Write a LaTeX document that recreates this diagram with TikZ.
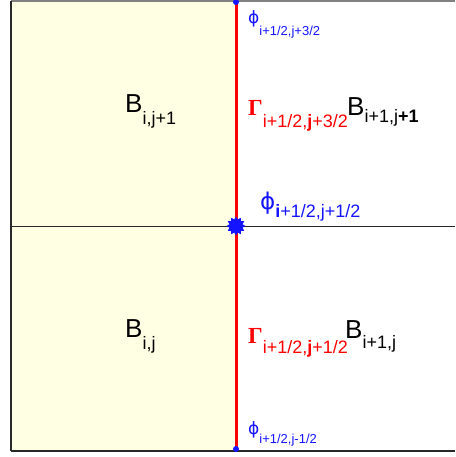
\documentclass[tikz,border=0pt]{standalone}
\usepackage{fontspec}
\setmainfont{Liberation Sans}
\newfontfamily\gammafont{Liberation Serif}
\newfontfamily\phifont{DejaVu Sans}
\usetikzlibrary{positioning,shapes.geometric}
\definecolor{cellyellow}{RGB}{255,255,228}
\definecolor{faceblue}{RGB}{20,20,255}
\definecolor{facered}{RGB}{255,0,0}
\definecolor{framegray}{RGB}{40,40,40}
\newcommand{\subtxt}[3]{\raisebox{-#1pt}{\fontsize{#2}{#2}\selectfont #3}}

\begin{document}
\begin{tikzpicture}[x=1pt,y=-1pt,
            cellname/.style={anchor=base west,inner sep=0pt,
                             font=\fontsize{26}{26}\selectfont},
            facename/.style={anchor=base west,inner sep=0pt,facered,
                             font=\fontsize{23}{23}\selectfont\gammafont\bfseries},
            nodename/.style={anchor=base west,inner sep=0pt,faceblue},
            gridline/.style={draw=framegray,line width=1.2pt},
            dot/.style={circle,fill=faceblue,inner sep=0pt,minimum size=6pt}]
        \useasboundingbox (0,0) rectangle (455,457);
        % corners of the two cells
        \coordinate (tl) at (11,1);
        \coordinate (tm) at (236,1);
        \coordinate (tr) at (455,1);
        \coordinate (ml) at (11,226);
        \coordinate (mm) at (236,226);
        \coordinate (mr) at (455,226);
        \coordinate (bl) at (11,451);
        \coordinate (bm) at (236,451);
        \coordinate (br) at (455,451);
        \fill[cellyellow] (tl) rectangle (bm);
        \draw[gridline,draw=gray] (tl) -- (tr);
        \draw[gridline] (tl) -- (bl);
        \draw[gridline,line width=2pt] (bl) -- (br);
        \draw[gridline,line width=1pt] (ml) -- (mr);
        \draw[facered,line width=3pt] (tm) -- (bm);
        % markers
        \node[dot] (ptop) at (236,2) {};
        \node[dot] (pbot) at (236,449) {};
        \node[star,star points=12,star point ratio=1.4,fill=faceblue,
              inner sep=0pt,minimum size=19pt] (pmid) at (mm) {};
        % cell and face labels
        \node[cellname] (bij1) at (125,113) {B\subtxt{12}{18}{i,j+1}};
        \node[cellname] (bij) at (125,337) {B\subtxt{12}{18}{i,j}};
        \node[cellname] (bi1j1) at (347,116) {B\subtxt{7}{18}{i+1,j\textbf{+1}}};
        \node[cellname] (bi1j) at (345,338) {B\subtxt{10}{18}{i+1,j}};
        \node[facename] (gup) at (248,116)
             {Γ\subtxt{12}{18}{\mdseries\normalfont i+1/2,\textbf{j}+3/2}};
        \node[facename] (gdn) at (248,343)
             {Γ\subtxt{10}{18}{\mdseries\normalfont i+1/2,\textbf{j}+1/2}};
        \node[nodename] (ftop) at (248,24)
             {{\fontsize{17}{17}\selectfont\phifont ϕ}\subtxt{12}{13}{i+1/2,j+3/2}};
        \node[nodename] (fmid) at (260,209)
             {{\fontsize{23}{23}\selectfont\phifont ϕ}\subtxt{8}{18}{\textbf{i}+1/2,j+1/2}};
        \node[nodename] (fbot) at (248,434)
             {{\fontsize{17}{17}\selectfont\phifont ϕ}\subtxt{9}{13}{i+1/2,j-1/2}};
\end{tikzpicture}
\end{document}
